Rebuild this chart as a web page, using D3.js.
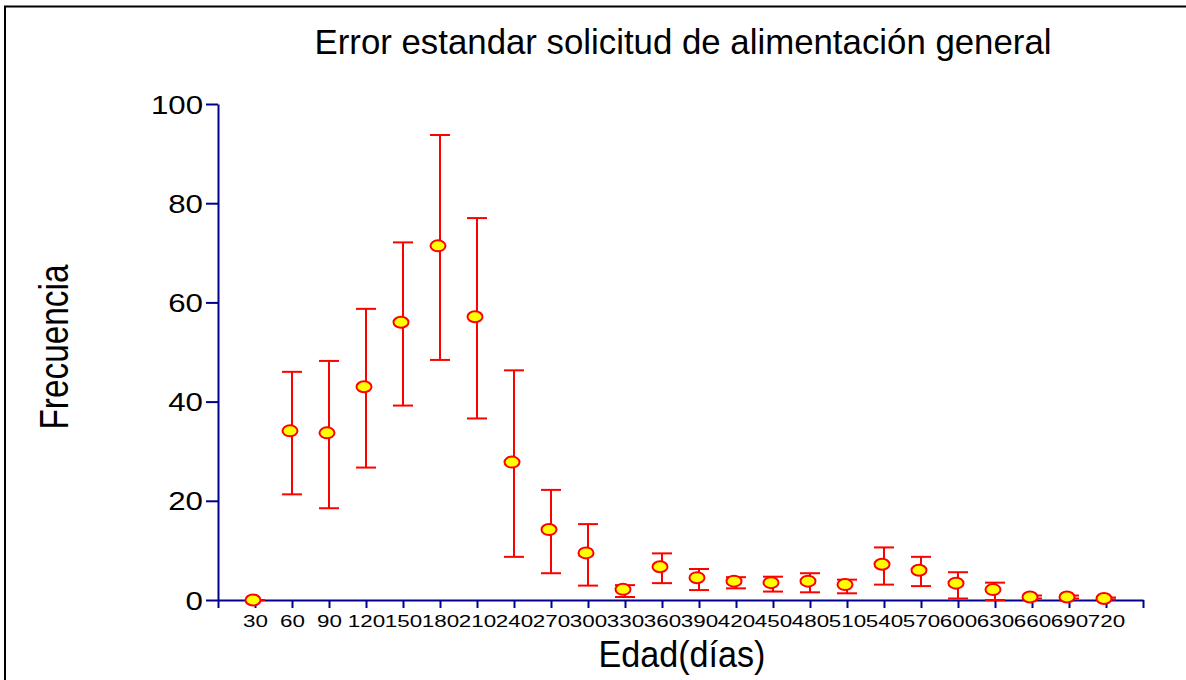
<!DOCTYPE html>
<html>
<head>
<meta charset="utf-8">
<script src="https://cdn.jsdelivr.net/npm/d3@7"></script>
<style>
	body { margin: 0; background: #fff; overflow: hidden; }
	svg { display: block; font-family: "Liberation Sans", Arial, sans-serif; }
</style>
</head>
<body>
<div id="chart"></div>
<script>
let DAYS = [30, 60, 90, 120, 150, 180, 210, 240, 270, 300, 330, 360, 390, 420, 450, 480, 510, 540, 570, 600, 630, 660, 690, 720];
let MEANS = [0, 34.1, 33.7, 43.0, 56.0, 71.4, 57.1, 27.8, 14.2, 9.5, 2.15, 6.7, 4.5, 3.8, 3.5, 3.8, 3.1, 7.2, 6.0, 3.4, 2.1, 0.6, 0.6, 0.3];
let UPPER = [0, 46.0, 48.2, 58.7, 72.1, 93.75, 77.0, 46.3, 22.2, 15.3, 3.0, 9.4, 6.25, 4.6, 4.7, 5.4, 4.1, 10.6, 8.7, 5.6, 3.5, 0.9, 0.9, 0.5];
let LOWER = [0, 21.3, 18.5, 26.7, 39.2, 48.4, 36.6, 8.7, 5.4, 2.9, 0.6, 3.4, 2.0, 2.35, 1.7, 1.55, 1.35, 3.1, 2.8, 0.3, 0, 0.3, 0.3, 0.1];
let Y_TICKS = [0, 20, 40, 60, 80, 100];
let X_TICKS = d3.range(0, 751, 30);

let TITLE = "Error estandar solicitud de alimentación general";
let X_LABEL = "Edad(días)";
let Y_LABEL = "Frecuencia";

let WIDTH = 1186;
let HEIGHT = 680;
let AXIS_COLOR = "#00008b";
let BAR_COLOR = "#ff0000";
let CAP = 10; // half width of the error bar caps

let svg = d3.select("#chart").append("svg").
	attr("width", WIDTH).
	attr("height", HEIGHT);

// frame: only the top and left edges show, the rest is cut off
svg.append("path").
	attr("d", `M5,${HEIGHT + 5}V6.5H${WIDTH + 5}`).
	attr("fill", "none").
	attr("stroke", "#000").
	attr("stroke-width", 2);

let x = d3.scaleLinear().domain([0, 750]).range([218, 1143]);
let y = d3.scaleLinear().domain([0, 100]).range([600, 104]);

let yAxis = svg.append("g").
	attr("transform", `translate(${x(0)},0)`).
	call(d3.axisLeft(y).tickValues(Y_TICKS).tickSize(12).tickSizeOuter(0));

yAxis.selectAll("text").
	attr("x", 0).
	attr("dy", "0.36em").
	attr("transform", "translate(-15,0) scale(1.25,1)").
	attr("font-size", 25).
	attr("fill", "#000");

let xAxis = svg.append("g").
	attr("transform", `translate(0,${y(0)})`).
	call(d3.axisBottom(x).tickValues(X_TICKS).tickSize(8).tickSizeOuter(0).
		tickFormat(d => d > 0 && d < 750 ? d : ""));

xAxis.selectAll("text").
	attr("y", 0).
	attr("dy", 0).
	attr("transform", "translate(0,27) scale(1.4,1)").
	attr("font-size", 16).
	attr("fill", "#000");

svg.selectAll(".domain, .tick line").
	attr("stroke", AXIS_COLOR).
	attr("stroke-width", 2);

let points = DAYS.map((d, i) => ({ day: d, mean: MEANS[i], hi: UPPER[i], lo: LOWER[i] }));

let bars = svg.append("g").
	attr("stroke", BAR_COLOR).
	attr("stroke-width", 2).
	selectAll("g").
	data(points).
	join("g");

bars.append("line").
	attr("x1", d => x(d.day)).
	attr("x2", d => x(d.day)).
	attr("y1", d => y(d.lo)).
	attr("y2", d => y(d.hi));

["hi", "lo"].forEach(key => {
	bars.append("line").
		attr("x1", d => x(d.day) - CAP).
		attr("x2", d => x(d.day) + CAP).
		attr("y1", d => y(d[key])).
		attr("y2", d => y(d[key]));
});

// markers sit a little left of their bars, as in the original
svg.append("g").
	selectAll("ellipse").
	data(points).
	join("ellipse").
	attr("cx", d => x(d.day) - 2).
	attr("cy", d => y(d.mean)).
	attr("rx", 7.5).
	attr("ry", 5.5).
	attr("fill", "#ffff00").
	attr("stroke", BAR_COLOR).
	attr("stroke-width", 2);

svg.append("text").
	attr("x", 683).
	attr("y", 54).
	attr("text-anchor", "middle").
	attr("font-size", 35).
	attr("textLength", 737).
	attr("lengthAdjust", "spacingAndGlyphs").
	text(TITLE);

svg.append("text").
	attr("x", 682).
	attr("y", 667).
	attr("text-anchor", "middle").
	attr("font-size", 36).
	attr("textLength", 167).
	attr("lengthAdjust", "spacingAndGlyphs").
	text(X_LABEL);

svg.append("text").
	attr("transform", "translate(68,347) rotate(-90)").
	attr("text-anchor", "middle").
	attr("font-size", 40).
	attr("textLength", 165).
	attr("lengthAdjust", "spacingAndGlyphs").
	text(Y_LABEL);
</script>
</body>
</html>
